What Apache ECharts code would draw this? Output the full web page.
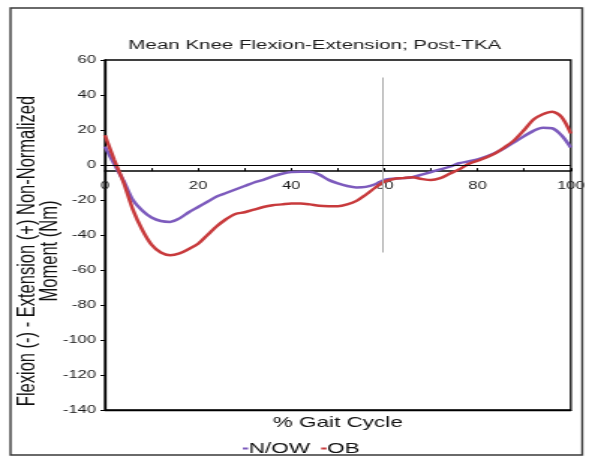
<!DOCTYPE html>
<html>
<head>
<meta charset="utf-8">
<script src="https://cdn.jsdelivr.net/npm/echarts@6/dist/echarts.min.js"></script>
<style>
  html, body { margin: 0; padding: 0; background: #fff; overflow: hidden; }
  #chart { width: 393px; height: 460px; transform: scaleX(1.4987); transform-origin: 0 0; }
</style>
</head>
<body>
<div id="chart"></div>
<script>
// % gait cycle sample positions
const gaitPct = [0,2,4,6,8,10,12,14,16,18,20,22,24,26,28,30,32,34,36,38,40,42,44,46,48,50,52,54,56,58,60,62,64,66,68,70,72,74,76,78,80,82,84,86,88,90,92,94,96,98,100];
// N/OW mean knee moment (Nm)
const nowMoment = [10.5,0.5,-9,-20,-26,-30,-32,-32.5,-30.5,-27,-24,-21,-18,-16,-14,-12,-10,-8.5,-6.5,-5,-4,-3.8,-3.8,-5.5,-8.5,-10.5,-12,-12.8,-12.5,-11,-8.5,-7.8,-7.5,-7,-5.5,-4,-2.5,-1,1,2,3.2,5,7.2,10,13.3,16.5,19.5,21.3,21,17,10];
// OB mean knee moment (Nm)
const obMoment = [17,3,-10,-25.5,-37,-45.5,-50,-51.5,-50.5,-48,-45,-40,-35,-31,-28,-27,-25.5,-24,-23,-22.5,-22,-22,-22.5,-23.3,-23.5,-23.5,-22.5,-20.5,-17,-13,-9.5,-8,-7.5,-7,-8,-8.6,-7.5,-5,-2.5,0.5,2.5,4.5,7,10.5,14.5,20,26,29,30.5,27.5,18];
const seriesNames = ['N/OW', 'OB'];
const xTickLabels = [0,20,40,60,80,100];
const yRange = { min: -140, max: 60, step: 20 };
const toeOffPct = 59.5;
const toeOffSpan = [-50, 50];
const titleText = 'Mean Knee Flexion-Extension; Post-TKA';
const xName = '% Gait Cycle';
const yName = 'Flexion (-) - Extension (+) Non-Normalized\nMoment (Nm)';

const FONT = '"Liberation Sans", Arial, sans-serif';
const pair = (xs, ys) => xs.map((x, i) => [x, ys[i]]);

const chart = echarts.init(document.getElementById('chart'));
chart.setOption({
  animation: false,
  backgroundColor: '#fff',
  title: {
    text: titleText, left: 205, top: 33, textAlign: 'center',
    textStyle: { fontFamily: FONT, fontSize: 13.7, fontWeight: 'normal', color: '#1a1a1a' }
  },
  legend: {
    data: seriesNames, left: 157, top: 436,
    icon: 'rect', itemWidth: 3.5, itemHeight: 2, itemGap: 7.5,
    textStyle: { fontFamily: FONT, fontSize: 15, color: '#111', padding: [0, 0, 0, -4.5] }
  },
  grid: { left: 70, right: 11, top: 60, bottom: 50, show: true, borderColor: '#000', borderWidth: 1.3, backgroundColor: 'transparent' },
  xAxis: [
    {
      type: 'value', min: 0, max: 100, interval: 10, position: 'bottom', offset: -238.9,
      axisLine: { onZero: false, lineStyle: { color: '#000', width: 1.6 } },
      axisTick: { inside: true, length: 3, lineStyle: { color: '#000', width: 1 } },
      axisLabel: { margin: 9, fontFamily: FONT, fontSize: 11, color: '#1a1a1a',
        formatter: v => (xTickLabels.indexOf(v) >= 0 ? String(v) : '') },
      splitLine: { show: false }
    },
    {
      type: 'value', min: 0, max: 100, position: 'bottom', gridIndex: 0,
      name: xName, nameLocation: 'middle', nameGap: 5,
      nameTextStyle: { fontFamily: FONT, fontSize: 15, color: '#111' },
      axisLine: { onZero: false, lineStyle: { color: '#000', width: 1.3 } },
      axisTick: { show: false }, axisLabel: { show: false }, splitLine: { show: false }
    }
  ],
  yAxis: {
    type: 'value', min: yRange.min, max: yRange.max, interval: yRange.step,
    axisLine: { show: true, onZero: false, lineStyle: { color: '#000', width: 1.3 } },
    axisTick: { show: true, length: 3, lineStyle: { color: '#000', width: 1 } },
    axisLabel: { margin: 6, fontFamily: FONT, fontSize: 11, color: '#1a1a1a' },
    splitLine: { show: false }
  },
  graphic: [
    { type: 'rect', shape: { x: 7, y: 8, width: 381.5, height: 447 }, style: { fill: 'none', stroke: '#3a3a3a', lineWidth: 1.4 }, z: 100 },
    { type: 'text', x: 26, y: 251, rotation: Math.PI / 2,
      style: { text: yName, font: '16.5px ' + FONT, fill: '#111', textAlign: 'center', textVerticalAlign: 'middle', lineHeight: 15.5 }, z: 100 }
  ],
  series: [
    {
      name: seriesNames[0], type: 'line', smooth: 0.3, showSymbol: false,
      data: pair(gaitPct, nowMoment),
      lineStyle: { color: '#7d5bbd', width: 2.5 }, itemStyle: { color: '#7d5bbd' },
      markLine: {
        silent: true, symbol: 'none', label: { show: false },
        data: [
          [{ coord: [toeOffPct, toeOffSpan[0]] }, { coord: [toeOffPct, toeOffSpan[1]] }],
        ],
        lineStyle: { color: '#aaa', width: 1, type: 'solid' }
      }
    },
    {
      name: seriesNames[1], type: 'line', smooth: 0.3, showSymbol: false,
      data: pair(gaitPct, obMoment),
      lineStyle: { color: '#c83a3c', width: 2.5 }, itemStyle: { color: '#c83a3c' },
      markLine: {
        silent: true, symbol: 'none', label: { show: false },
        data: [{ yAxis: 0 }],
        lineStyle: { color: '#000', width: 1.2, type: 'solid' }
      }
    }
  ]
});
</script>
</body>
</html>
